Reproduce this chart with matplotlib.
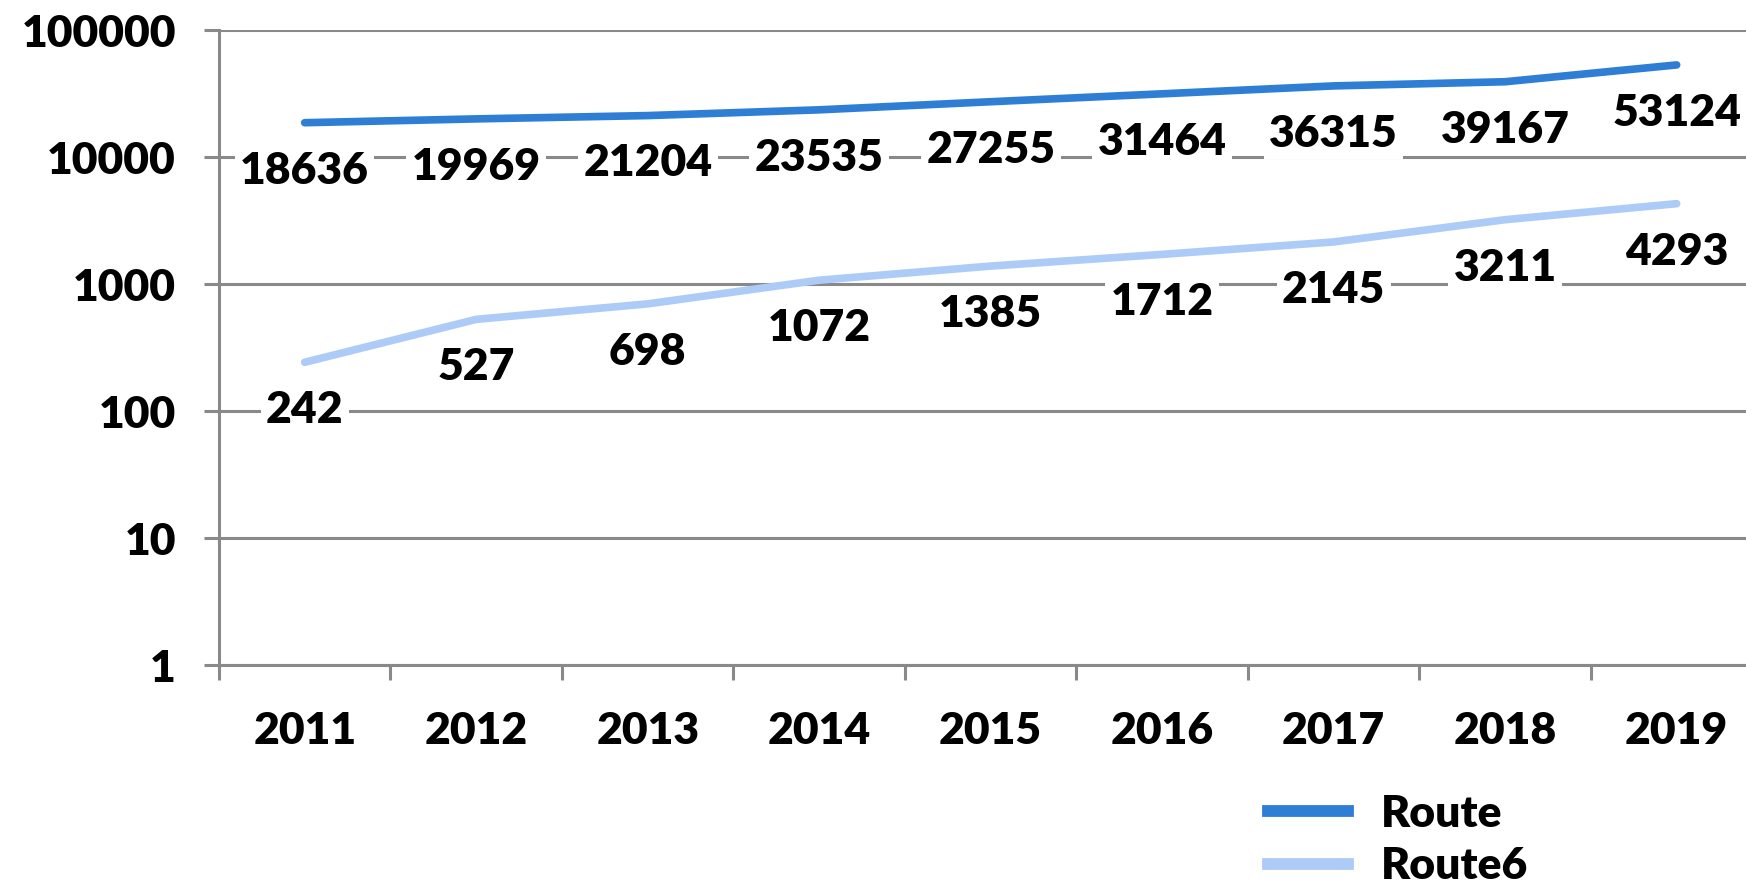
import matplotlib
matplotlib.use("Agg")
import matplotlib.pyplot as plt
from matplotlib.lines import Line2D
from matplotlib.ticker import FixedLocator, NullFormatter, NullLocator

years = ["2011", "2012", "2013", "2014", "2015", "2016", "2017", "2018", "2019"]
route = [18636, 19969, 21204, 23535, 27255, 31464, 36315, 39167, 53124]
route6 = [242, 527, 698, 1072, 1385, 1712, 2145, 3211, 4293]
series_names = ["Route", "Route6"]
y_ticks = [1, 10, 100, 1000, 10000, 100000]

plt.rcParams['font.family'] = ['Lato', 'DejaVu Sans']
W = 'heavy'
plt.rcParams['font.weight'] = W

GRID = "#898989"
C1 = "#2E7ED6"
C2 = "#ADCBF7"
FS = 32

fig = plt.figure(figsize=(17.46, 8.86), dpi=100)
ax = fig.add_axes([0.1254, 0.2494, 0.884, 0.7167])

x = list(range(len(years)))
ax.plot(x, route, color=C1, lw=5.5, solid_capstyle='round', solid_joinstyle='round', zorder=3)
ax.plot(x, route6, color=C2, lw=5.5, solid_capstyle='round', solid_joinstyle='round', zorder=3)

for vals in (route, route6):
    for xi, v in zip(x, vals):
        ax.annotate(f"{v}", (xi, v), xytext=(0, -34.5), textcoords='offset points',
                    ha='center', va='center', fontsize=FS, fontweight=W,
                    bbox=dict(boxstyle='square,pad=0.12', fc='white', ec='none'),
                    zorder=4, annotation_clip=False)

ax.set_yscale('log')
ax.set_ylim(1, 100000)
ax.set_xlim(-0.5, len(years) - 0.5)

ax.yaxis.set_major_locator(FixedLocator(y_ticks))
ax.yaxis.set_minor_locator(NullLocator())
ax.set_yticklabels([str(t) for t in y_ticks])
ax.tick_params(axis='y', which='major', direction='out', length=11, width=2.2,
               color=GRID, labelsize=FS, pad=20)

ax.xaxis.set_major_locator(FixedLocator([i - 0.5 for i in range(len(years) + 1)]))
ax.xaxis.set_major_formatter(NullFormatter())
ax.xaxis.set_minor_locator(FixedLocator(x))
ax.set_xticklabels(years, minor=True)
ax.tick_params(axis='x', which='major', direction='out', length=11, width=2.2, color=GRID)
ax.tick_params(axis='x', which='minor', length=0, labelsize=FS, pad=33)

for lab in ax.get_xticklabels(minor=True) + ax.get_yticklabels():
    lab.set_fontweight(W)

ax.grid(axis='y', color=GRID, lw=2.2, zorder=1)
ax.set_axisbelow(True)
for s in ['top', 'right']:
    ax.spines[s].set_visible(False)
for s in ['left', 'bottom']:
    ax.spines[s].set_color(GRID)
    ax.spines[s].set_linewidth(2.2)

handles = [Line2D([], [], color=C1, lw=8.5), Line2D([], [], color=C2, lw=8.5)]
leg = fig.legend(handles, series_names, loc='center left', bbox_to_anchor=(0.726, 0.052),
                 bbox_transform=fig.transFigure, frameon=False,
                 handlelength=1.8, handletextpad=0.75, labelspacing=0.28,
                 borderpad=0, borderaxespad=0, prop={'weight': W, 'size': FS})

fig.savefig("out.png", dpi=100)
